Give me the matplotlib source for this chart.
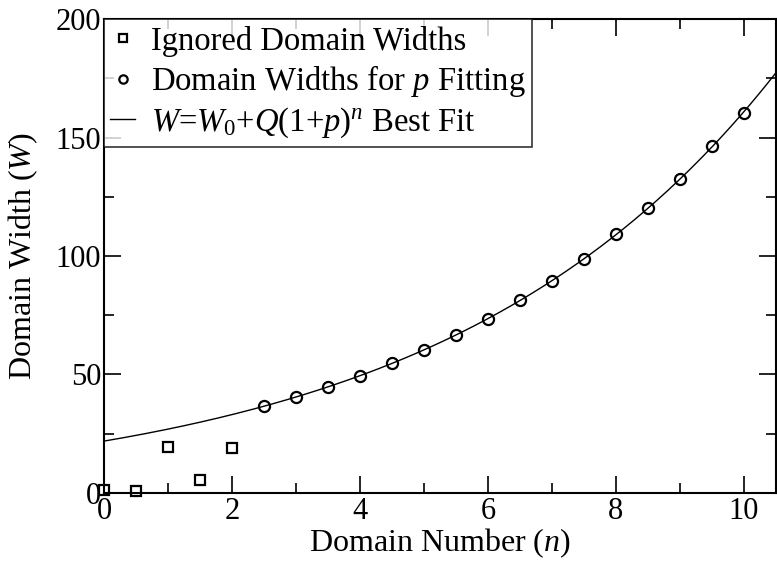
import numpy as np
import matplotlib
matplotlib.use("Agg")
import matplotlib.pyplot as plt
from matplotlib.ticker import MultipleLocator

plt.rcParams['font.family'] = ['Liberation Serif', 'DejaVu Serif']
plt.rcParams['mathtext.fontset'] = 'custom'
plt.rcParams['mathtext.rm'] = 'Liberation Serif'
plt.rcParams['mathtext.it'] = 'Liberation Serif:italic'

# ignored points (squares)
n_ignored = [0.0, 0.5, 1.0, 1.5, 2.0]
w_ignored = [1.2, 1.0, 19.2, 5.6, 18.8]

# points used for the fit (circles)
n_fit = [2.5, 3.0, 3.5, 4.0, 4.5, 5.0, 5.5, 6.0, 6.5, 7.0, 7.5, 8.0, 8.5, 9.0, 9.5, 10.0]
w_fit = [36.8, 40.6, 44.7, 49.4, 54.7, 60.3, 66.5, 73.4, 81.5, 89.4, 98.7, 109.1, 120.3, 132.6, 146.4, 160.5]

# least squares fit of W = W0 + Q(1+p)^n, scanning p
nf = np.array(n_fit)
wf = np.array(w_fit)
best = None
for p in np.linspace(0.05, 0.5, 4501):
    A = np.column_stack([np.ones_like(nf), (1 + p) ** nf])
    coef, res, _, _ = np.linalg.lstsq(A, wf, rcond=None)
    err = np.sum((A @ coef - wf) ** 2)
    if best is None or err < best[0]:
        best = (err, p, coef)
_, p_best, (W0, Q) = best
n_line = np.linspace(0, 10.5, 300)
w_line = W0 + Q * (1 + p_best) ** n_line

fig = plt.figure(figsize=(7.77, 5.64), dpi=100)
ax = fig.add_axes([0.1338, 0.1259, 0.8649, 0.8404])

ax.plot(n_ignored, w_ignored, 's', ms=7, mfc='none', mec='black', mew=1.6,
        label='Ignored Domain Widths', clip_on=False)
ax.plot(n_fit, w_fit, 'o', ms=8, mfc='none', mec='black', mew=1.6,
        label=r'Domain Widths for $\mathit{p}$ Fitting')
ax.plot(n_line, w_line, '-', color='black', lw=1.0,
        label=r'$\mathit{W}$=$\mathit{W}_{\mathit{0}}$+$\mathit{Q}$(1+$\mathit{p}$)$^{\mathit{n}}$ Best Fit')

ax.set_xlim(0, 10.5)
ax.set_ylim(0, 200)
ax.xaxis.set_major_locator(MultipleLocator(2))
ax.xaxis.set_minor_locator(MultipleLocator(1))
ax.yaxis.set_major_locator(MultipleLocator(50))
ax.yaxis.set_minor_locator(MultipleLocator(25))
ax.tick_params(which='both', direction='in', top=True, right=True, width=1.2, labelsize=22)
ax.tick_params(which='major', length=12)
ax.tick_params(which='minor', length=7)
ax.tick_params(axis='x', pad=3)
ax.tick_params(axis='y', pad=2)
for s in ax.spines.values():
    s.set_linewidth(1.5)

ax.set_xlabel(r'Domain Number ($\mathit{n}$)', fontsize=23, labelpad=0)
ax.set_ylabel(r'Domain Width ($\mathit{W}$)', fontsize=23, labelpad=11)

leg = ax.legend(loc='upper left', fontsize=23.5, frameon=True, fancybox=False,
                borderaxespad=0, handlelength=0.75, handletextpad=0.5,
                borderpad=0.2, labelspacing=0.2, markerscale=0.75)
leg.get_frame().set_edgecolor('black')
leg.get_frame().set_linewidth(1.2)

fig.savefig('out.png', dpi=100)
